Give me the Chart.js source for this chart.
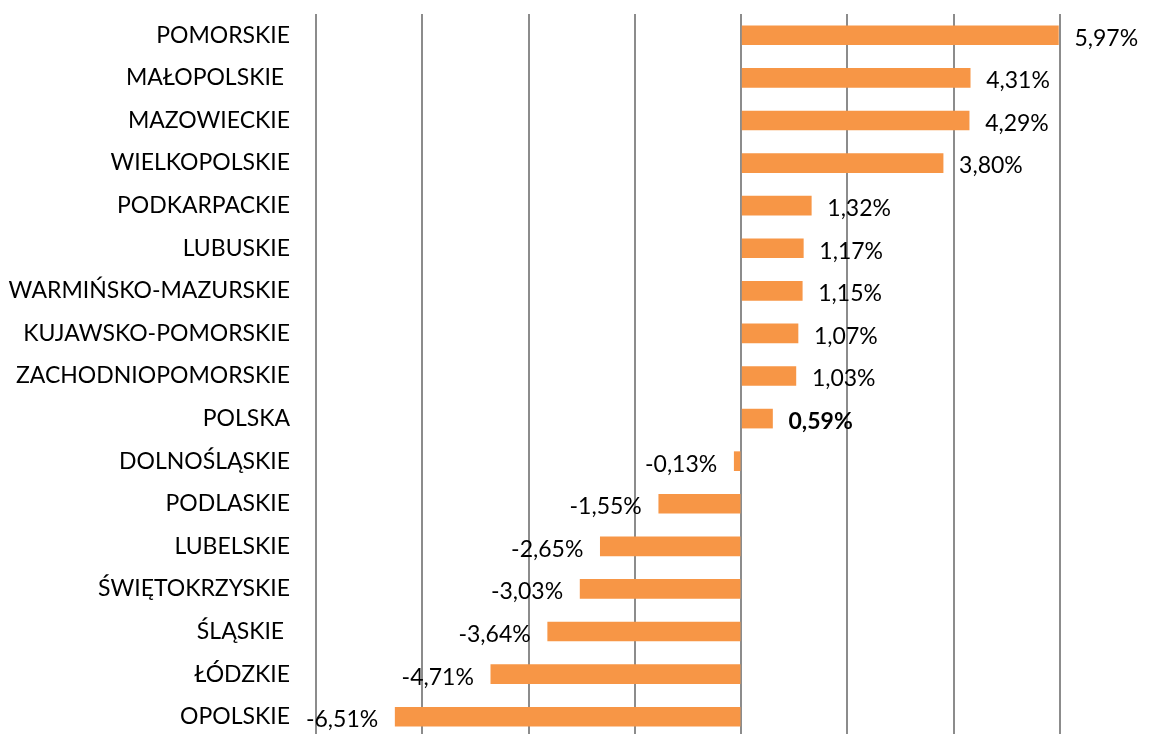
<!DOCTYPE html>
<html>
<head>
<meta charset="utf-8">
<script src="https://cdn.jsdelivr.net/npm/chart.js@4/dist/chart.umd.min.js"></script>
<style>
    html, body { margin: 0; padding: 0; background: #fff; overflow: hidden; }
    #chart { display: block; }
</style>
</head>
<body>
<canvas id="chart" width="1153" height="740"></canvas>
<script>
// Regional change, %
const regions = [
    'POMORSKIE', 'MAŁOPOLSKIE ', 'MAZOWIECKIE', 'WIELKOPOLSKIE', 'PODKARPACKIE',
    'LUBUSKIE', 'WARMIŃSKO-MAZURSKIE', 'KUJAWSKO-POMORSKIE', 'ZACHODNIOPOMORSKIE',
    'POLSKA', 'DOLNOŚLĄSKIE', 'PODLASKIE', 'LUBELSKIE', 'ŚWIĘTOKRZYSKIE',
    'ŚLĄSKIE ', 'ŁÓDZKIE', 'OPOLSKIE'
];
const changes = [
    5.97, 4.31, 4.29, 3.80, 1.32, 1.17, 1.15, 1.07, 1.03,
    0.59, -0.13, -1.55, -2.65, -3.03, -3.64, -4.71, -6.51
];
const boldRegion = 'POLSKA';

const FONT = 'Lato, "Liberation Sans", sans-serif';
const FONT_SIZE = 23;

// value labels next to the bar ends
const valueLabels = {
    id: 'valueLabels',
    afterDatasetsDraw(chart) {
        const ctx = chart.ctx;
        const meta = chart.getDatasetMeta(0);
        ctx.save();
        ctx.fillStyle = '#000';
        ctx.textBaseline = 'middle';
        meta.data.forEach((bar, i) => {
            const v = changes[i];
            const txt = v.toFixed(2).replace('.', ',') + '%';
            ctx.font = (regions[i] === boldRegion ? 'bold ' : '') + FONT_SIZE + 'px ' + FONT;
            if (v >= 0) {
                ctx.textAlign = 'left';
                ctx.fillText(txt, bar.x + 16, bar.y + 3);
            } else {
                ctx.textAlign = 'right';
                ctx.fillText(txt, bar.x - 17, bar.y + 3);
            }
        });
        ctx.restore();
    }
};

new Chart(document.getElementById('chart'), {
    type: 'bar',
    data: {
        labels: regions,
        datasets: [{
            data: changes,
            backgroundColor: '#F79646',
            barThickness: 19,
            borderWidth: 0
        }]
    },
    options: {
        indexAxis: 'y',
        responsive: false,
        animation: false,
        devicePixelRatio: 1,
        layout: { padding: { top: 14, right: 93, bottom: 2, left: 0 } },
        plugins: {
            legend: { display: false },
            tooltip: { enabled: false }
        },
        scales: {
            x: {
                min: -8,
                max: 6,
                ticks: { stepSize: 2, display: false },
                grid: { color: '#8c8c8c', lineWidth: 2, drawTicks: false },
                border: { display: false }
            },
            y: {
                grid: { display: false, drawTicks: false },
                border: { display: false },
                ticks: {
                    color: '#000',
                    padding: 26,
                    autoSkip: false,
                    font: { family: FONT, size: FONT_SIZE }
                },
                afterFit(scale) {
                    scale.width = 316;
                    scale.paddingTop = 0;
                    scale.paddingBottom = 0;
                }
            }
        }
    },
    plugins: [valueLabels]
});
</script>
</body>
</html>
